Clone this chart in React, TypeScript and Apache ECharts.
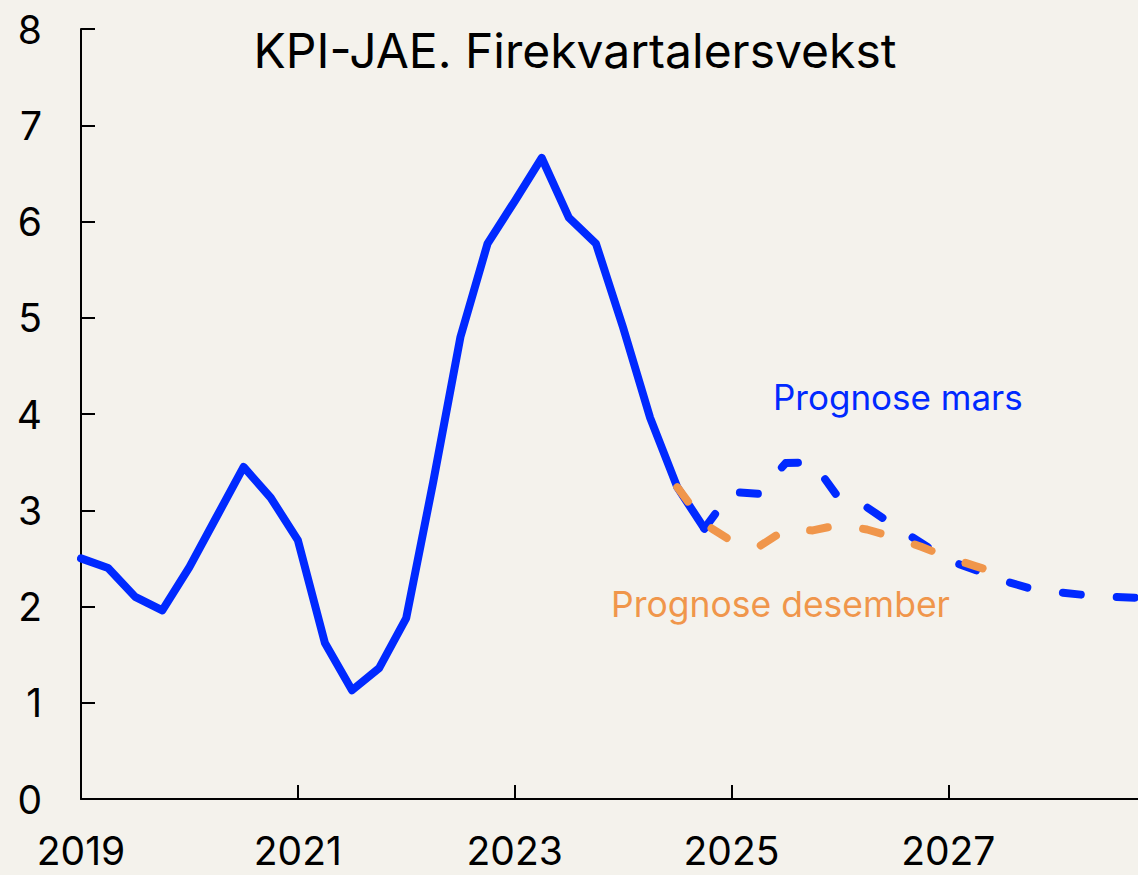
import React, { useEffect, useRef } from "react";
import * as echarts from "echarts";

const years = [2019, 2020, 2021, 2022, 2023, 2024, 2025, 2026, 2027, 2028];
const quarterNames = ["K1", "K2", "K3", "K4"];
const quarters: string[] = years.flatMap((y) => quarterNames.map((q) => `${y}${q}`));

// KPI-JAE, four-quarter growth, actual (2019K1–2024K4)
const actual = [
  2.5, 2.4, 2.1, 1.96,
  2.41, 2.93, 3.45, 3.13,
  2.69, 1.62, 1.13, 1.36,
  1.88, 3.3, 4.8, 5.77,
  6.21, 6.66, 6.04, 5.77,
  4.9, 3.96, 3.24, 2.81,
];

// Prognose mars (from 2024K4 to 2028K4)
const marsStart = 23;
const prognoseMars = [
  2.81, 3.19, 3.17, 3.49, 3.5,
  3.11, 3.03, 2.84, 2.66,
  2.48, 2.38, 2.27, 2.19,
  2.15, 2.12, 2.1, 2.09,
];

// Prognose desember (from 2024K3 to 2027K3)
const desStart = 22;
const prognoseDesember = [
  3.24, 2.86,
  2.68, 2.62, 2.8, 2.79,
  2.85, 2.8, 2.72, 2.62,
  2.51, 2.42, 2.33,
];

const yTicks = { min: 0, max: 8, interval: 1 };

const BLUE = "#0029ff";
const ORANGE = "#f0964b";
const BG = "#f4f2ec";
const FONT = "Inter";

function place(values: number[], start: number): (number | null)[] {
  return quarters.map((_, i) =>
    i >= start && i < start + values.length ? values[i - start] : null
  );
}

export default function App() {
  const ref = useRef<HTMLDivElement>(null);

  useEffect(() => {
    if (!ref.current) return;
    document.body.style.background = BG;
    const chart = echarts.init(ref.current, undefined, { renderer: "svg" });
    chart.setOption({
      animation: false,
      backgroundColor: BG,
      textStyle: { fontFamily: FONT },
      grid: { left: 81, right: 0, top: 29, bottom: 76, containLabel: false },
      xAxis: {
        type: "category",
        data: quarters,
        boundaryGap: false,
        axisLine: { show: true, lineStyle: { color: "#000", width: 2 } },
        axisTick: {
          show: true,
          inside: true,
          length: 14,
          interval: (idx: number) => idx % 8 === 0 && idx > 0,
          lineStyle: { color: "#000", width: 2 },
        },
        axisLabel: {
          interval: (idx: number) => idx % 8 === 0,
          formatter: (v: string) => v.slice(0, 4),
          fontFamily: FONT,
          fontSize: 39,
          lineHeight: 39,
          color: "#000",
          margin: 32,
        },
        splitLine: { show: false },
      },
      yAxis: {
        type: "value",
        min: yTicks.min,
        max: yTicks.max,
        interval: yTicks.interval,
        axisLine: { show: true, lineStyle: { color: "#000", width: 2 } },
        axisTick: { show: true, inside: true, length: 14, lineStyle: { color: "#000", width: 2 } },
        axisLabel: { fontFamily: FONT, fontSize: 39, color: "#000", margin: 39 },
        splitLine: { show: false },
      },
      graphic: [
        {
          type: "text",
          x: 575,
          y: 50,
          style: {
            text: "KPI-JAE. Firekvartalersvekst",
            font: `48px ${FONT}`,
            fill: "#000",
            textAlign: "center",
            textVerticalAlign: "middle",
          },
        },
        {
          type: "text",
          x: 773,
          y: 397,
          style: {
            text: "Prognose mars",
            font: `35px ${FONT}`,
            fill: BLUE,
            textVerticalAlign: "middle",
          },
        },
        {
          type: "text",
          x: 611,
          y: 604,
          style: {
            text: "Prognose desember",
            font: `35.5px ${FONT}`,
            fill: ORANGE,
            textVerticalAlign: "middle",
          },
        },
      ],
      series: [
        {
          name: "KPI-JAE",
          type: "line",
          data: place(actual, 0),
          showSymbol: false,
          connectNulls: false,
          lineStyle: { color: BLUE, width: 8, join: "round", cap: "round" },
          z: 2,
        },
        {
          name: "Prognose mars",
          type: "line",
          data: place(prognoseMars, marsStart),
          showSymbol: false,
          lineStyle: { color: BLUE, width: 8, type: [18, 36], cap: "round", join: "round" },
          z: 2,
        },
        {
          name: "Prognose desember",
          type: "line",
          data: place(prognoseDesember, desStart),
          showSymbol: false,
          lineStyle: { color: ORANGE, width: 8, type: [18, 36], cap: "round", join: "round" },
          z: 3,
        },
      ],
    });
    return () => chart.dispose();
  }, []);

  return (
    <div
      ref={ref}
      style={{ position: "absolute", left: 0, top: 0, width: 1138, height: 875 }}
    />
  );
}
